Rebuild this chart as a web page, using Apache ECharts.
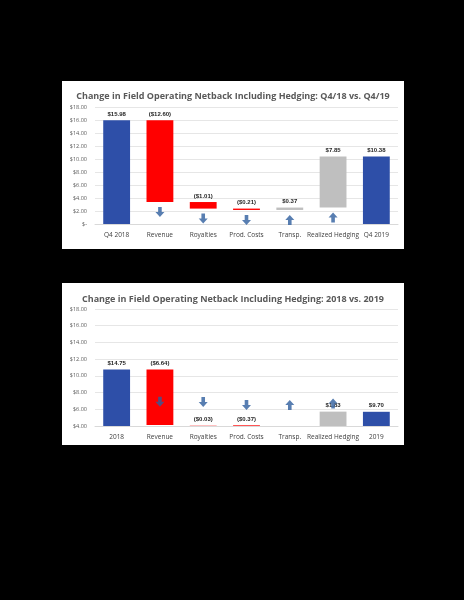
<!DOCTYPE html>
<html><head><meta charset="utf-8">
<script src="https://cdn.jsdelivr.net/npm/echarts@6/dist/echarts.min.js"></script>
<style>
body{margin:0;background:#000;width:464px;height:600px;position:relative;overflow:hidden}
.p{position:absolute;background:#fff}
</style></head><body>
<div id="c1" class="p" style="left:62px;top:81px;width:342px;height:168px"></div>
<div id="c2" class="p" style="left:62px;top:283px;width:342px;height:162px"></div>
<script>
const cats1 = ['Q4 2018','Revenue','Royalties','Prod. Costs','Transp.','Realized Hedging','Q4 2019'];
const steps1 = [15.98,-12.60,-1.01,-0.21,0.37,7.85,10.38];
const labels1 = ['$15.98','($12.60)','($1.01)','($0.21)','$0.37','$7.85','$10.38'];
const cats2 = ['2018','Revenue','Royalties','Prod. Costs','Transp.','Realized Hedging','2019'];
const steps2 = [14.75,-6.64,-0.03,-0.37,0.18,1.83,9.70];
const labels2 = ['$14.75','($6.64)','($0.03)','($0.37)','$0.18','$1.83','$9.70'];

const ARROW='path://M3,0 L7,0 L7,6 L10,6 L5,12 L0,6 L3,6 Z';
function build(el,title,cats,steps,labels,ymin,zeroLabel,titleTop,gridBottom){
  const n=cats.length; const base=[],val=[],arrows=[];
  let run=0;
  for(let i=0;i<n;i++){
    const s=steps[i];
    if(i===0||i===n-1){
      base.push(ymin); val.push({value:s-ymin,itemStyle:{color:'#2e4fa8'}}); arrows.push(null);
      run = s;
    } else {
      const lo=Math.min(run,run+s), hi=Math.max(run,run+s);
      base.push(lo);
      val.push({value:hi-lo,itemStyle:{color:s<0?'#ff0000':'#bfbfbf'}});
      arrows.push({value:[i,lo],symbolRotate:s<0?0:180});
      run+=s;
    }
  }
  const ch=echarts.init(el);
  ch.setOption({
    animation:false,
    title:{text:title,left:'center',top:titleTop,textStyle:{fontSize:9,fontWeight:'bold',color:'#595959',fontFamily:'Open Sans'}},
    grid:{left:33,right:6,top:26,bottom:gridBottom},
    xAxis:{type:'category',data:cats,axisTick:{show:false},axisLine:{lineStyle:{color:'#d9d9d9'}},
      axisLabel:{fontSize:6.5,color:'#404040',interval:0,fontFamily:'Open Sans'}},
    yAxis:{type:'value',min:ymin,max:18,interval:2,
      axisLabel:{fontSize:5.5,color:'#595959',fontFamily:'Open Sans',formatter:v=>v===0?zeroLabel:'$'+v.toFixed(2)},
      splitLine:{lineStyle:{color:'#e6e6e6'}}},
    series:[
      {type:'bar',stack:'w',data:base.map(v=>v-ymin),itemStyle:{color:'transparent'},barWidth:'62%',silent:true},
      {type:'bar',stack:'w',data:val,barWidth:'62%',
        label:{show:true,position:'top',fontSize:6,fontWeight:'bold',color:'#262626',distance:3,
          formatter:p=>labels[p.dataIndex]}},
      {type:'scatter',data:arrows.filter(a=>a),symbol:ARROW,symbolSize:[9,10],symbolOffset:[0,10],
        itemStyle:{color:'#2e5e9e'}}
    ]
  });
  // arrow positions relative to offset axis
  ch.setOption({series:[{},{},{data:arrows.filter(a=>a).map(a=>({value:[a.value[0],a.value[1]],symbolRotate:a.symbolRotate}))}]});
}
build(document.getElementById('c1'),'Change in Field Operating Netback Including Hedging: Q4/18 vs. Q4/19',cats1,steps1,labels1,0,'$-',6,25);
build(document.getElementById('c2'),'Change in Field Operating Netback Including Hedging: 2018 vs. 2019',cats2,steps2,labels2,4,'$4.00',7,19);
</script></body></html>
